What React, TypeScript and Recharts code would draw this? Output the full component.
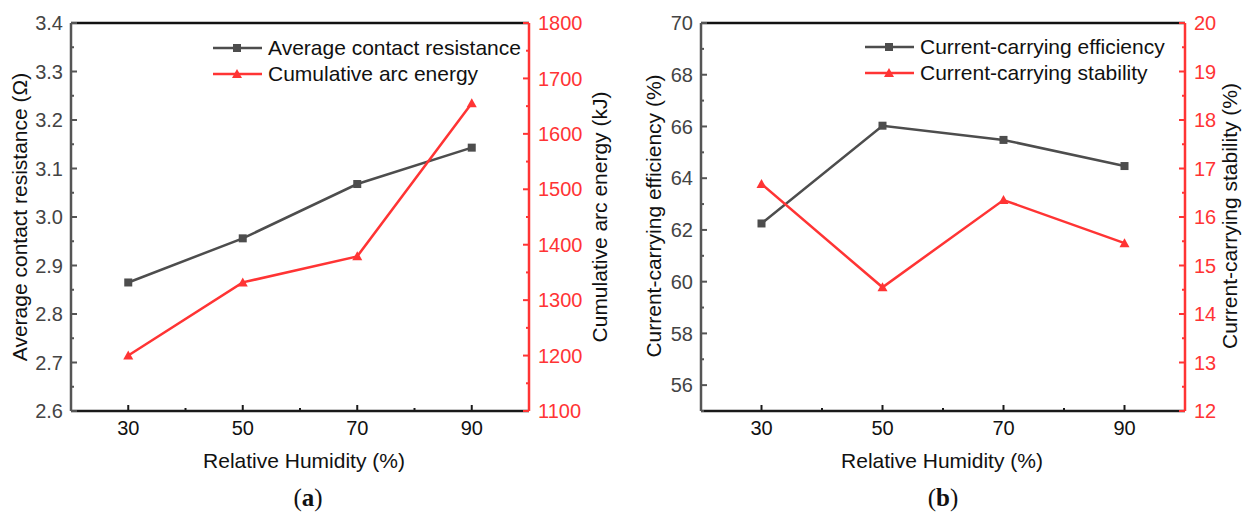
import React from 'react';
import { LineChart, Line, XAxis, YAxis, ReferenceLine } from 'recharts';

// relative humidity (%) on the x axis of both panels
const humidity = [30, 50, 70, 90];
// panel (a)
const contactResistance = [2.865, 2.956, 3.068, 3.143];
const arcEnergy = [1200, 1332, 1379, 1655];
// panel (b)
const efficiency = [62.25, 66.03, 65.48, 64.47];
const stability = [16.68, 14.55, 16.35, 15.46];

const xMajor = [30, 50, 70, 90];
const xMinor = [40, 60, 80];
const resMajor = [2.6, 2.7, 2.8, 2.9, 3.0, 3.1, 3.2, 3.3, 3.4];
const resMinor = [2.65, 2.75, 2.85, 2.95, 3.05, 3.15, 3.25, 3.35];
const arcMajor = [1100, 1200, 1300, 1400, 1500, 1600, 1700, 1800];
const arcMinor = [1150, 1250, 1350, 1450, 1550, 1650, 1750];
const effMajor = [56, 58, 60, 62, 64, 66, 68, 70];
const effMinor = [55, 57, 59, 61, 63, 65, 67, 69];
const stabMajor = [12, 13, 14, 15, 16, 17, 18, 19, 20];
const stabMinor = [12.5, 13.5, 14.5, 15.5, 16.5, 17.5, 18.5, 19.5];

const dataA = humidity.map((rh, i) => ({ rh, res: contactResistance[i], arc: arcEnergy[i] }));
const dataB = humidity.map((rh, i) => ({ rh, eff: efficiency[i], stab: stability[i] }));

const FONT = '"Liberation Sans", Arial, sans-serif';
const SERIF = '"Liberation Serif", "Times New Roman", serif';
const GREY = '#4d4d4d';
const RED = '#ff3434';
const AXIS = '#1a1a1a';
const LEFT_AXIS = '#555';

type TickOpts = {
  side: 'left' | 'right' | 'bottom';
  major: number[];
  color: string;
  lineColor: string;
  fmt?: (v: number) => string;
};

const makeTick = ({ side, major, color, lineColor, fmt }: TickOpts) => (props: any) => {
  const { x, y, payload } = props;
  const v = payload.value;
  const isMajor = major.includes(v);
  const len = isMajor ? 6 : 3;
  const label = isMajor ? (fmt ? fmt(v) : String(v)) : '';
  if (side === 'left') {
    return (
      <g>
        <line x1={x} x2={x + len} y1={y} y2={y} stroke={lineColor} strokeWidth={2} />
        <text x={x - 8} y={y} dy="0.36em" textAnchor="end" fontSize={20} fontFamily={FONT} fill={color}>{label}</text>
      </g>
    );
  }
  if (side === 'right') {
    return (
      <g>
        <line x1={x - len} x2={x} y1={y} y2={y} stroke={lineColor} strokeWidth={2} />
        <text x={x + 9} y={y} dy="0.36em" textAnchor="start" fontSize={20} fontFamily={FONT} fill={color}>{label}</text>
      </g>
    );
  }
  return (
    <g>
      <line x1={x} x2={x} y1={y} y2={y - len} stroke={lineColor} strokeWidth={2} />
      <text x={x} y={y + 24} textAnchor="middle" fontSize={20} fontFamily={FONT} fill={color}>{label}</text>
    </g>
  );
};

const SquareDot = (props: any) => {
  const { cx, cy } = props;
  if (cx == null || cy == null) return null;
  return <rect x={cx - 4} y={cy - 4} width={8} height={8} fill={GREY} />;
};

const TriangleDot = (props: any) => {
  const { cx, cy } = props;
  if (cx == null || cy == null) return null;
  return <path d={`M${cx},${cy - 5} L${cx + 5},${cy + 4} L${cx - 5},${cy + 4} Z`} fill={RED} />;
};

const fmt1 = (v: number) => v.toFixed(1);

const Legend2 = ({ x, y, names }: { x: number; y: number; names: string[] }) => (
  <g>
    <line x1={x} x2={x + 49} y1={y} y2={y} stroke={GREY} strokeWidth={2.5} />
    <rect x={x + 20} y={y - 4} width={8} height={8} fill={GREY} />
    <text x={x + 55} y={y + 7} fontSize={21} fontFamily={FONT} fill="#111">{names[0]}</text>
    <line x1={x} x2={x + 49} y1={y + 26} y2={y + 26} stroke={RED} strokeWidth={2.5} />
    <path d={`M${x + 24},${y + 21} L${x + 29},${y + 30} L${x + 19},${y + 30} Z`} fill={RED} />
    <text x={x + 55} y={y + 33} fontSize={21} fontFamily={FONT} fill="#111">{names[1]}</text>
  </g>
);

const App: React.FC = () => {
  return (
    <div style={{ position: 'absolute', left: 0, top: 0, width: 1249, height: 518, background: '#fff' }}>
      <div style={{ position: 'absolute', left: 0, top: 0 }}>
        <LineChart width={620} height={470} data={dataA} margin={{ top: 23, right: 0, bottom: 0, left: 0 }}>
          <XAxis
            dataKey="rh" type="number" domain={[20, 100]} ticks={[...xMajor, ...xMinor]} interval={0}
            height={59} tickSize={0} tickMargin={0} tickLine={false}
            axisLine={{ stroke: AXIS, strokeWidth: 2.5 }}
            tick={makeTick({ side: 'bottom', major: xMajor, color: '#111', lineColor: AXIS })}
          />
          <YAxis
            yAxisId="left" orientation="left" width={71} domain={[2.6, 3.4]} ticks={[...resMajor, ...resMinor]}
            interval={0} allowDataOverflow tickSize={0} tickMargin={0} tickLine={false}
            axisLine={{ stroke: LEFT_AXIS, strokeWidth: 2.5 }}
            tick={makeTick({ side: 'left', major: resMajor, color: '#444', lineColor: LEFT_AXIS, fmt: fmt1 })}
          />
          <YAxis
            yAxisId="right" orientation="right" width={91} domain={[1100, 1800]} ticks={[...arcMajor, ...arcMinor]}
            interval={0} allowDataOverflow tickSize={0} tickMargin={0} tickLine={false}
            axisLine={{ stroke: RED, strokeWidth: 2.5 }}
            tick={makeTick({ side: 'right', major: arcMajor, color: RED, lineColor: RED })}
          />
          <ReferenceLine yAxisId="left" y={3.4} stroke="#111" strokeWidth={2.5} />
          <Line yAxisId="left" dataKey="res" stroke={GREY} strokeWidth={2.5} dot={<SquareDot />} isAnimationActive={false} />
          <Line yAxisId="right" dataKey="arc" stroke={RED} strokeWidth={2.5} dot={<TriangleDot />} isAnimationActive={false} />
        </LineChart>
      </div>
      <div style={{ position: 'absolute', left: 620, top: 0 }}>
        <LineChart width={629} height={470} data={dataB} margin={{ top: 23, right: 0, bottom: 0, left: 0 }}>
          <XAxis
            dataKey="rh" type="number" domain={[20, 100]} ticks={[...xMajor, ...xMinor]} interval={0}
            height={59} tickSize={0} tickMargin={0} tickLine={false}
            axisLine={{ stroke: AXIS, strokeWidth: 2.5 }}
            tick={makeTick({ side: 'bottom', major: xMajor, color: '#111', lineColor: AXIS })}
          />
          <YAxis
            yAxisId="left" orientation="left" width={81} domain={[55, 70]} ticks={[...effMajor, ...effMinor]}
            interval={0} allowDataOverflow tickSize={0} tickMargin={0} tickLine={false}
            axisLine={{ stroke: LEFT_AXIS, strokeWidth: 2.5 }}
            tick={makeTick({ side: 'left', major: effMajor, color: '#444', lineColor: LEFT_AXIS })}
          />
          <YAxis
            yAxisId="right" orientation="right" width={64} domain={[12, 20]} ticks={[...stabMajor, ...stabMinor]}
            interval={0} allowDataOverflow tickSize={0} tickMargin={0} tickLine={false}
            axisLine={{ stroke: RED, strokeWidth: 2.5 }}
            tick={makeTick({ side: 'right', major: stabMajor, color: RED, lineColor: RED })}
          />
          <ReferenceLine yAxisId="left" y={70} stroke="#111" strokeWidth={2.5} />
          <Line yAxisId="left" dataKey="eff" stroke={GREY} strokeWidth={2.5} dot={<SquareDot />} isAnimationActive={false} />
          <Line yAxisId="right" dataKey="stab" stroke={RED} strokeWidth={2.5} dot={<TriangleDot />} isAnimationActive={false} />
        </LineChart>
      </div>
      <svg width={1249} height={518} style={{ position: 'absolute', left: 0, top: 0, pointerEvents: 'none' }}>
        {/* axis titles */}
        <text x={27} y={217} transform="rotate(-90 27 217)" textAnchor="middle" fontSize={21} fontFamily={FONT} fill="#111">Average contact resistance (Ω)</text>
        <text x={607} y={217} transform="rotate(-90 607 217)" textAnchor="middle" fontSize={21} fontFamily={FONT} fill="#111">Cumulative arc energy (kJ)</text>
        <text x={304} y={468} textAnchor="middle" fontSize={21} fontFamily={FONT} fill="#111">Relative Humidity (%)</text>
        <text x={661} y={216} transform="rotate(-90 661 216)" textAnchor="middle" fontSize={21} fontFamily={FONT} fill="#111">Current-carrying efficiency (%)</text>
        <text x={1237} y={216} transform="rotate(-90 1237 216)" textAnchor="middle" fontSize={21} fontFamily={FONT} fill="#111">Current-carrying stability (%)</text>
        <text x={942} y={468} textAnchor="middle" fontSize={21} fontFamily={FONT} fill="#111">Relative Humidity (%)</text>
        {/* legends */}
        <Legend2 x={213} y={48} names={['Average contact resistance', 'Cumulative arc energy']} />
        <Legend2 x={865} y={47} names={['Current-carrying efficiency', 'Current-carrying stability']} />
        {/* panel captions */}
        <text x={308} y={506} textAnchor="middle" fontSize={25} fontFamily={SERIF} fill="#111">
          (<tspan fontWeight="bold">a</tspan>)
        </text>
        <text x={943} y={506} textAnchor="middle" fontSize={25} fontFamily={SERIF} fill="#111">
          (<tspan fontWeight="bold">b</tspan>)
        </text>
      </svg>
    </div>
  );
};

export default App;
